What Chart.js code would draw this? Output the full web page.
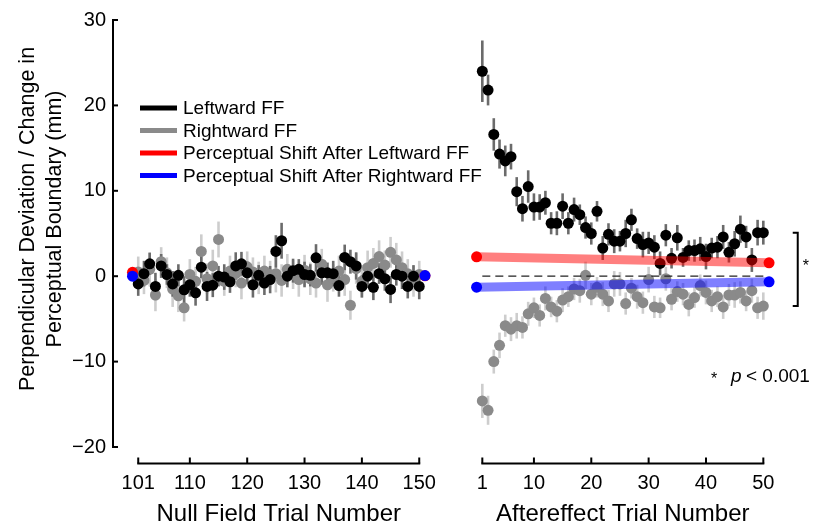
<!DOCTYPE html>
<html lang="en">
<head>
    <meta charset="UTF-8">
    <title>Perceptual Boundary Aftereffect</title>
    <script src="https://cdn.jsdelivr.net/npm/chart.js"></script>
    <style>
        body { margin: 0; background: #fff; }
        #wrap { width: 819px; height: 527px; }
    </style>
</head>
<body>
    <div id="wrap"><canvas id="effChart" width="819" height="527"></canvas></div>

    <script>
        // trial numbers + tick labels
        const nullTrials = Array.from({ length: 50 }, (_, i) => 101 + i);
        const aeTrials = Array.from({ length: 50 }, (_, i) => 1 + i);
        const nullTicks = [101, 110, 120, 130, 140, 150];
        const aeTicks = [1, 10, 20, 30, 40, 50];
        const yTicks = [-20, -10, 0, 10, 20, 30];

        // null field block (trials 101-150)
        const leftNull = [-0.9, 0.3, 1.45, -1.2, 1.2, 0.2, -0.9, 0.1, -1.6, -1.0,
            -1.95, 1.05, -1.2, -1.05, 0.0, -0.1, -0.65, 1.2, 1.45, 0.4,
            -1.0, 0.1, -0.8, -0.4, 2.9, 4.15, 0.0, 0.65, 0.8, 0.2,
            0.1, 2.15, 0.4, 0.4, 0.3, -1.1, 2.2, 1.7, 1.2, -1.2,
            0.0, -1.3, 0.3, -0.3, -1.55, 0.2, 0.0, -1.2, 0.0, -1.2];
        const leftNullErr = [1.4, 1.5, 1.3, 1.6, 1.4, 1.2, 1.5, 1.3, 1.6, 1.4,
            1.5, 1.3, 1.7, 1.4, 1.2, 1.5, 1.3, 1.6, 1.4, 1.3,
            1.5, 1.2, 1.4, 1.6, 1.9, 2.1, 1.3, 1.4, 1.2, 1.5,
            1.3, 1.6, 1.4, 1.2, 1.5, 1.3, 1.5, 1.4, 1.6, 1.3,
            1.4, 1.5, 1.2, 1.4, 1.6, 1.3, 1.5, 1.4, 1.3, 1.5];
        const rightNull = [0.5, -0.5, 0.8, -2.2, 1.7, 0.4, -1.5, -2.3, -3.7, 0.2,
            -0.6, 2.9, -0.3, 1.2, 4.3, -0.6, 0.6, 0.3, -0.8, 1.1,
            0.5, -0.2, 0.6, 0.2, 0.3, -0.5, 0.8, 0.2, -0.4, 0.7,
            -0.3, -0.8, 1.4, -1.0, -0.2, 0.6, -0.4, -3.4, 0.9, -0.6,
            1.0, 1.5, 2.3, 1.3, 2.8, 1.9, 1.0, 0.3, -0.6, 0.2];
        const rightNullErr = [1.8, 1.6, 2.0, 1.9, 1.7, 1.8, 2.1, 1.9, 1.6, 1.8,
            1.7, 2.0, 1.8, 1.9, 2.1, 1.7, 1.8, 1.6, 1.9, 1.8,
            1.7, 1.9, 1.8, 1.6, 2.2, 1.9, 1.8, 1.7, 2.0, 1.8,
            1.9, 1.7, 1.8, 2.0, 1.6, 1.8, 1.9, 1.7, 1.8, 1.9,
            2.0, 1.8, 1.9, 1.7, 1.8, 2.0, 1.9, 1.7, 1.8, 1.6];

        // aftereffect block (trials 1-50)
        const leftAE = [24.0, 21.8, 16.6, 14.3, 13.5, 14.0, 9.9, 7.9, 10.5, 8.1,
            8.1, 8.6, 6.2, 6.2, 8.2, 6.2, 7.8, 7.2, 5.7, 5.0,
            7.6, 3.3, 4.9, 4.1, 4.1, 5.0, 6.6, 4.4, 3.7, 3.9,
            3.4, 1.5, 4.8, 2.1, 4.5, 2.2, 3.0, 3.0, 3.2, 2.3,
            3.3, 3.4, 4.6, 2.8, 3.8, 5.5, 4.6, 1.9, 5.1, 5.1];
        const leftAEErr = [3.6, 1.8, 1.9, 1.7, 1.8, 1.5, 1.7, 1.5, 1.9, 1.6,
            1.5, 1.4, 1.3, 1.4, 1.5, 1.3, 1.4, 1.2, 1.3, 1.3,
            1.2, 1.4, 1.3, 1.4, 1.2, 1.6, 1.3, 1.2, 1.5, 1.3,
            1.4, 1.4, 1.3, 1.2, 1.5, 1.1, 1.2, 1.3, 1.4, 1.5,
            1.2, 1.3, 1.4, 1.2, 1.5, 1.6, 1.3, 1.4, 1.5, 1.4];
        const rightAE = [-14.6, -15.7, -10.0, -8.1, -5.8, -6.2, -5.8, -6.0, -4.4, -3.7,
            -4.6, -2.6, -3.6, -4.1, -2.8, -2.4, -1.5, -1.7, 0.1, -2.1,
            -1.3, -2.1, -2.9, -0.9, -0.9, -3.2, -1.4, -2.4, -3.1, -0.4,
            -3.6, -3.7, -0.3, -2.7, -1.8, -2.1, -3.3, -2.5, -1.1, -1.9,
            -2.9, -2.4, -3.6, -2.2, -2.2, -1.9, -2.9, -1.7, -3.7, -3.5];
        const rightAEErr = [2.0, 1.7, 1.4, 1.5, 1.3, 1.4, 1.5, 1.3, 1.4, 1.2,
            1.3, 1.4, 1.2, 1.3, 1.4, 1.2, 1.3, 1.4, 1.6, 1.3,
            1.2, 1.4, 1.3, 1.5, 1.4, 1.3, 1.2, 1.4, 1.3, 1.5,
            1.3, 1.2, 1.4, 1.3, 1.2, 1.3, 1.4, 1.2, 1.3, 1.4,
            1.3, 1.2, 1.4, 1.3, 1.5, 1.3, 1.2, 1.4, 1.3, 1.6];

        // perceptual boundary shifts (before / after each block)
        const shiftNullTrials = [100, 151];
        const shiftLeftNull = [0.45, 0.05];
        const shiftRightNull = [0.0, 0.08];
        const shiftAETrials = [0, 51];
        const shiftLeftAE = [2.27, 1.57];
        const shiftRightAE = [-1.29, -0.66];

        // both blocks share one linear x scale, with a gap between them
        const nullX = t => t - 101;
        const aeX = t => t + 59;

        const FONT = "'Liberation Sans', Arial, Helvetica, sans-serif";
        const BLACK = '#000000';
        const GREY = '#8a8a8a';
        const BLACK_BAR = '#6b6b6b';
        const GREY_BAR = '#cdcdcd';

        const pts = (xs, ys, fx) => xs.map((t, i) => ({ x: fx(t), y: ys[i] }));

        const dotStyle = (col) => ({
            showLine: false, pointRadius: 5.5, pointHoverRadius: 5.5,
            backgroundColor: col, borderColor: col, borderWidth: 0
        });

        const datasets = [
            // on top: end dots of the shifts
            { label: 'shiftL-null', data: pts(shiftNullTrials, shiftLeftNull, nullX), ...dotStyle('#ff0000'), order: 1 },
            { label: 'shiftR-null', data: pts(shiftNullTrials, shiftRightNull, nullX), ...dotStyle('#0000ff'), order: 0 },
            { label: 'shiftL-ae', data: pts(shiftAETrials, shiftLeftAE, aeX), ...dotStyle('#ff0000'), order: 0 },
            { label: 'shiftR-ae', data: pts(shiftAETrials, shiftRightAE, aeX), ...dotStyle('#0000ff'), order: 0 },
            // translucent shift bands
            { type: 'line', label: 'bandL', data: pts(shiftAETrials, shiftLeftAE, aeX),
              borderColor: 'rgba(255,0,0,0.5)', borderWidth: 9, pointRadius: 0, order: 2 },
            { type: 'line', label: 'bandR', data: pts(shiftAETrials, shiftRightAE, aeX),
              borderColor: 'rgba(0,0,255,0.5)', borderWidth: 9, pointRadius: 0, order: 2 },
            // zero reference
            { type: 'line', label: 'zero', data: [{ x: aeX(1), y: 0 }, { x: aeX(50), y: 0 }],
              borderColor: '#222', borderWidth: 1.3, borderDash: [8, 5], pointRadius: 0, order: 3 },
            // the trial means
            { label: 'Leftward FF null', data: pts(nullTrials, leftNull, nullX), ...dotStyle(BLACK), order: 4, err: leftNullErr, barCol: BLACK_BAR },
            { label: 'Leftward FF ae', data: pts(aeTrials, leftAE, aeX), ...dotStyle(BLACK), order: 4, err: leftAEErr, barCol: BLACK_BAR },
            { label: 'Rightward FF null', data: pts(nullTrials, rightNull, nullX), ...dotStyle(GREY), order: 5, err: rightNullErr, barCol: GREY_BAR },
            { label: 'Rightward FF ae', data: pts(aeTrials, rightAE, aeX), ...dotStyle(GREY), order: 5, err: rightAEErr, barCol: GREY_BAR }
        ];

        const legendItems = [
            { text: 'Leftward FF', color: BLACK },
            { text: 'Rightward FF', color: GREY },
            { text: 'Perceptual Shift After Leftward FF', color: '#ff0000' },
            { text: 'Perceptual Shift After Rightward FF', color: '#0000ff' }
        ];

        // error bars under every dot
        const errorBars = {
            id: 'errorBars',
            beforeDatasetsDraw(chart) {
                const { ctx, scales: { x, y } } = chart;
                ctx.save();
                ctx.lineWidth = 2.6;
                // grey series bars first, black series bars after
                [...chart.data.datasets].filter(d => d.err).sort((a, b) => b.order - a.order).forEach(ds => {
                    ctx.strokeStyle = ds.barCol;
                    ds.data.forEach((p, i) => {
                        const px = x.getPixelForValue(p.x);
                        ctx.beginPath();
                        ctx.moveTo(px, y.getPixelForValue(p.y - ds.err[i]));
                        ctx.lineTo(px, y.getPixelForValue(p.y + ds.err[i]));
                        ctx.stroke();
                    });
                });
                ctx.restore();
            }
        };

        // split x axes, inward ticks, titles, legend, stats note
        const decorations = {
            id: 'decorations',
            afterDraw(chart) {
                const { ctx, scales: { x, y } } = chart;
                ctx.save();
                ctx.strokeStyle = '#000';
                ctx.fillStyle = '#000';
                ctx.lineWidth = 2;

                // y ticks pointing inward
                const ax = chart.chartArea.left;
                yTicks.forEach(v => {
                    const py = y.getPixelForValue(v);
                    ctx.beginPath();
                    ctx.moveTo(ax, py);
                    ctx.lineTo(ax + 5, py);
                    ctx.stroke();
                });

                // the two x axis segments
                const axY = 463.5;
                [[nullTicks, nullX], [aeTicks, aeX]].forEach(([ticks, fx]) => {
                    const x0 = x.getPixelForValue(fx(ticks[0]));
                    const x1 = x.getPixelForValue(fx(ticks[ticks.length - 1]));
                    ctx.beginPath();
                    ctx.moveTo(x0 - 1, axY);
                    ctx.lineTo(x1 + 1, axY);
                    ctx.stroke();
                    ticks.forEach(t => {
                        const px = x.getPixelForValue(fx(t));
                        ctx.beginPath();
                        ctx.moveTo(px, axY);
                        ctx.lineTo(px, axY - 6);
                        ctx.stroke();
                    });
                });

                // axis titles
                ctx.font = '24px ' + FONT;
                ctx.textAlign = 'center';
                ctx.textBaseline = 'middle';
                const nullMid = (x.getPixelForValue(nullX(101)) + x.getPixelForValue(nullX(150))) / 2;
                const aeMid = (x.getPixelForValue(aeX(1)) + x.getPixelForValue(aeX(50))) / 2;
                ctx.fillText('Null Field Trial Number', nullMid, 514);
                ctx.fillText('Aftereffect Trial Number', aeMid, 514);

                ctx.save();
                ctx.font = '21.5px ' + FONT;
                ctx.translate(0, 219);
                ctx.rotate(-Math.PI / 2);
                ctx.fillText('Perpendicular Deviation / Change in', 0, 28);
                ctx.fillText('Perceptual Boundary (mm)', 0, 55);
                ctx.restore();

                // legend
                ctx.font = '19px ' + FONT;
                ctx.textAlign = 'left';
                legendItems.forEach((it, i) => {
                    const ly = 108 + i * 22.5;
                    ctx.strokeStyle = it.color;
                    ctx.lineWidth = 5;
                    ctx.beginPath();
                    ctx.moveTo(140, ly);
                    ctx.lineTo(177, ly);
                    ctx.stroke();
                    ctx.fillText(it.text, 183, ly + 1);
                });

                // significance bracket at the last aftereffect trial
                const bx = x.getPixelForValue(aeX(50) + 6);
                const bTop = y.getPixelForValue(leftAE[49]);
                const bBot = y.getPixelForValue(rightAE[49]);
                ctx.strokeStyle = '#000';
                ctx.lineWidth = 2;
                ctx.beginPath();
                ctx.moveTo(bx - 5, bTop);
                ctx.lineTo(bx, bTop);
                ctx.lineTo(bx, bBot);
                ctx.lineTo(bx - 5, bBot);
                ctx.stroke();
                ctx.font = '16px ' + FONT;
                ctx.fillText('*', bx + 5, (bTop + bBot) / 2 - 3);

                // p value note
                ctx.fillText('*', 711, 380);
                ctx.font = 'italic 19px ' + FONT;
                ctx.fillText('p', 731, 377);
                ctx.font = '19px ' + FONT;
                ctx.fillText('< 0.001', 746, 377);
                ctx.restore();
            }
        };

        const ctx = document.getElementById('effChart').getContext('2d');

        new Chart(ctx, {
            type: 'scatter',
            data: { datasets },
            options: {
                responsive: false,
                animation: false,
                layout: { padding: { top: 20, right: 27, left: 0, bottom: 0 } },
                plugins: { legend: { display: false }, tooltip: { enabled: false } },
                scales: {
                    x: {
                        type: 'linear',
                        min: -4.4,
                        max: 114,
                        grid: { display: false },
                        border: { display: false },
                        afterBuildTicks: s => {
                            s.ticks = nullTicks.map(t => ({ value: nullX(t) }))
                                .concat(aeTicks.map(t => ({ value: aeX(t) })));
                        },
                        afterFit: s => { s.height = 80; },
                        ticks: {
                            autoSkip: false,
                            maxRotation: 0,
                            padding: 16,
                            color: '#000',
                            font: { size: 20, family: FONT },
                            callback: v => (v < 55 ? v + 101 : v - 59)
                        }
                    },
                    y: {
                        min: -20,
                        max: 30,
                        grid: { display: false, drawTicks: false },
                        border: { display: true, color: '#000', width: 2 },
                        afterFit: s => { s.width = 113; },
                        ticks: {
                            stepSize: 10,
                            padding: 7,
                            color: '#000',
                            font: { size: 20, family: FONT },
                            callback: v => (v < 0 ? '\u2212' + Math.abs(v) : v)
                        }
                    }
                }
            },
            plugins: [errorBars, decorations]
        });
    </script>
</body>
</html>
